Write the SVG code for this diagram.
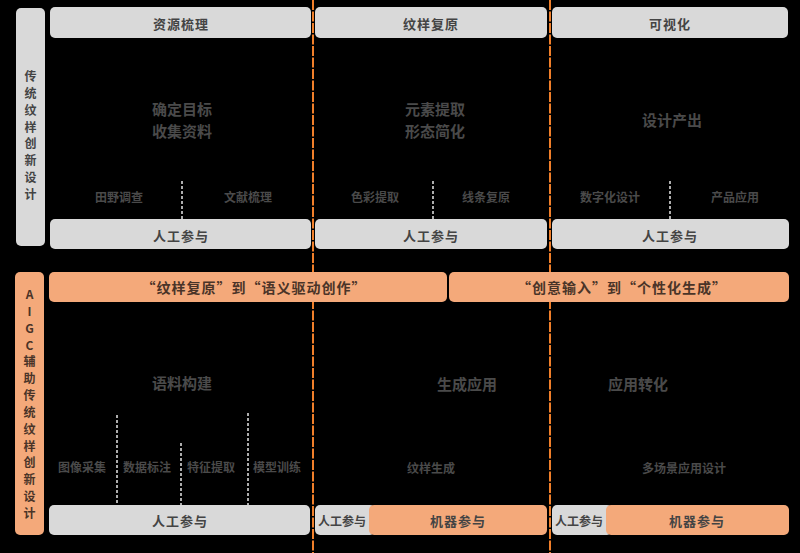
<svg xmlns="http://www.w3.org/2000/svg" width="800" height="553" viewBox="0 0 800 553">
<style>
text{font-family:"Noto Sans CJK SC","Noto Sans",sans-serif;text-anchor:middle;dominant-baseline:central}
.g{fill:#d9d9d9}
.o{fill:#f4a97a}
.h{font-size:13px;font-weight:bold;fill:#444;letter-spacing:1px}
.s{font-size:12px;font-weight:bold;fill:#444}
.v{font-size:12px;font-weight:bold;fill:#444}
.vo{font-size:12px;font-weight:bold;fill:#4a3428}
.b{font-size:14px;font-weight:bold;fill:#4a3428;letter-spacing:1px}
.t{font-size:15px;font-weight:bold;fill:#4a4a4a}
.l{font-size:12px;font-weight:bold;fill:#4a4a4a}
.sep{stroke:#f07f2a;stroke-width:2;stroke-dasharray:10 1.5;fill:none}
.con{stroke:#e6e6e6;stroke-width:1.5;stroke-dasharray:3 2;fill:none}
</style>
<rect width="800" height="553" fill="#000"/>
<g id="connectors">
<line class="sep" x1="313" y1="0" x2="313" y2="553"/>
<line class="sep" x1="550" y1="0" x2="550" y2="553"/>
<line class="con" x1="182" y1="181" x2="182" y2="219"/>
<line class="con" x1="433" y1="181" x2="433" y2="219"/>
<line class="con" x1="670" y1="181" x2="670" y2="219"/>
<line class="con" x1="117" y1="415" x2="117" y2="505"/>
<line class="con" x1="181" y1="443" x2="181" y2="505"/>
<line class="con" x1="248" y1="413" x2="248" y2="505"/>
</g>
<g id="row-traditional">
<rect class="g" x="16" y="8" width="29" height="238" rx="5"/>
<text class="v" x="30.5" y="75">传</text>
<text class="v" x="30.5" y="92">统</text>
<text class="v" x="30.5" y="109">纹</text>
<text class="v" x="30.5" y="126">样</text>
<text class="v" x="30.5" y="142">创</text>
<text class="v" x="30.5" y="159">新</text>
<text class="v" x="30.5" y="176">设</text>
<text class="v" x="30.5" y="193">计</text>
</g>
<g id="col-resource">
<rect class="g" x="50" y="7" width="261" height="31" rx="5"/>
<text class="h" x="181" y="23">资源梳理</text>
<text class="t" x="182" y="108">确定目标</text>
<text class="t" x="182" y="130">收集资料</text>
<text class="l" x="119" y="196">田野调查</text>
<text class="l" x="248" y="196">文献梳理</text>
<rect class="g" x="50" y="219" width="261" height="30" rx="5"/>
<text class="h" x="181" y="235">人工参与</text>
</g>
<g id="col-restore">
<rect class="g" x="315" y="7" width="232" height="31" rx="5"/>
<text class="h" x="431" y="23">纹样复原</text>
<text class="t" x="435" y="108">元素提取</text>
<text class="t" x="435" y="130">形态简化</text>
<text class="l" x="375" y="196">色彩提取</text>
<text class="l" x="486" y="196">线条复原</text>
<rect class="g" x="315" y="219" width="232" height="30" rx="5"/>
<text class="h" x="431" y="235">人工参与</text>
</g>
<g id="col-visual">
<rect class="g" x="552" y="7" width="236" height="31" rx="5"/>
<text class="h" x="670" y="23">可视化</text>
<text class="t" x="672" y="119">设计产出</text>
<text class="l" x="610" y="196">数字化设计</text>
<text class="l" x="735" y="196">产品应用</text>
<rect class="g" x="552" y="219" width="237" height="30" rx="5"/>
<text class="h" x="670" y="235">人工参与</text>
</g>
<g id="row-aigc">
<rect class="o" x="15" y="272" width="29" height="263" rx="5"/>
<text class="vo" x="29.5" y="293">A</text>
<text class="vo" x="29.5" y="310">I</text>
<text class="vo" x="29.5" y="327">G</text>
<text class="vo" x="29.5" y="344">C</text>
<text class="vo" x="29.5" y="360">辅</text>
<text class="vo" x="29.5" y="377">助</text>
<text class="vo" x="29.5" y="394">传</text>
<text class="vo" x="29.5" y="411">统</text>
<text class="vo" x="29.5" y="428">纹</text>
<text class="vo" x="29.5" y="445">样</text>
<text class="vo" x="29.5" y="461">创</text>
<text class="vo" x="29.5" y="478">新</text>
<text class="vo" x="29.5" y="495">设</text>
<text class="vo" x="29.5" y="512">计</text>
</g>
<g id="banner-1">
<rect class="o" x="49" y="272" width="398" height="30" rx="5"/>
<text class="b" x="254" y="287">“纹样复原”到“语义驱动创作”</text>
</g>
<g id="banner-2">
<rect class="o" x="449" y="272" width="340" height="30" rx="5"/>
<text class="b" x="622" y="287">“创意输入”到“个性化生成”</text>
</g>
<g id="aigc-left">
<text class="t" x="182" y="382">语料构建</text>
<text class="l" x="82" y="466">图像采集</text>
<text class="l" x="147" y="466">数据标注</text>
<text class="l" x="211" y="466">特征提取</text>
<text class="l" x="277" y="466">模型训练</text>
<rect class="g" x="49" y="505" width="261" height="30" rx="5"/>
<text class="h" x="180" y="520">人工参与</text>
</g>
<g id="aigc-mid">
<text class="t" x="467" y="383">生成应用</text>
<text class="l" x="431" y="467">纹样生成</text>
<rect class="g" x="315" y="505" width="60" height="30" rx="5"/>
<rect class="o" x="369" y="505" width="178" height="30" rx="5"/>
<rect class="g" x="366" y="505" width="3" height="30"/>
<text class="s" x="342" y="520">人工参与</text>
<text class="h" x="458" y="520">机器参与</text>
</g>
<g id="aigc-right">
<text class="t" x="638" y="383">应用转化</text>
<text class="l" x="684" y="467">多场景应用设计</text>
<rect class="g" x="552" y="505" width="60" height="30" rx="5"/>
<rect class="o" x="606" y="505" width="183" height="30" rx="5"/>
<rect class="g" x="603" y="505" width="3" height="30"/>
<text class="s" x="579" y="520">人工参与</text>
<text class="h" x="697" y="520">机器参与</text>
</g>
</svg>
